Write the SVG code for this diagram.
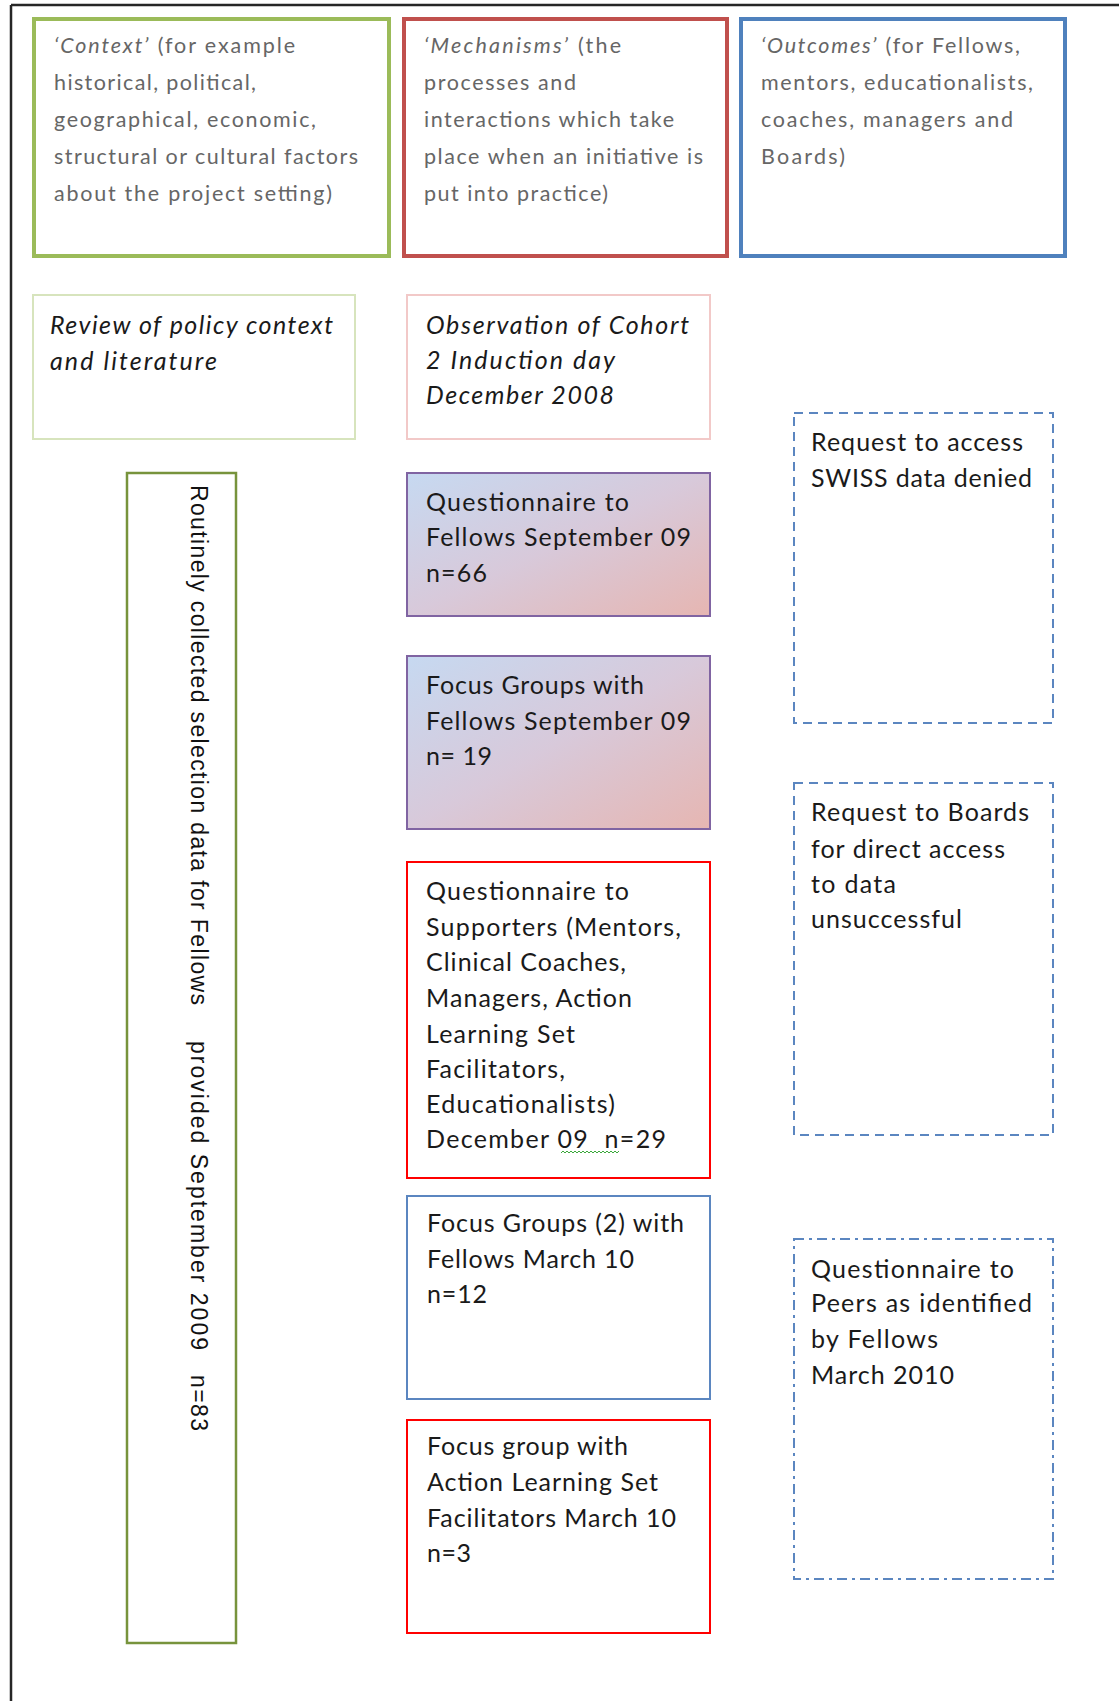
<svg xmlns="http://www.w3.org/2000/svg" width="1119" height="1701" viewBox="0 0 1119 1701">
<style>
  .hdr { font-family: Lato, "Open Sans", sans-serif; font-size: 21.5px; fill: #666666; }
  .body { font-family: Lato, "Open Sans", sans-serif; font-size: 25px; fill: #1a1a1a; }
  .ital { font-style: italic; }
  .vert { font-family: "Liberation Sans", Arial, sans-serif; font-size: 23px; fill: #111; }
  .frame { stroke: #262626; stroke-width: 2.5; fill: none; }
  .box { fill: #ffffff; }
  .thick { stroke-width: 4; }
  .thin { stroke-width: 2; }
  .dash { fill: none; stroke: #5b86c0; stroke-width: 2; stroke-dasharray: 9 6; }
  .dashdot { fill: none; stroke: #5b86c0; stroke-width: 2; stroke-dasharray: 10 5 3 5; }
</style>
<defs>
  <linearGradient id="grad" x1="0" y1="0" x2="1" y2="1">
    <stop offset="0" stop-color="#c6d9f1"/>
    <stop offset="0.5" stop-color="#d8c9da"/>
    <stop offset="1" stop-color="#e6b6b2"/>
  </linearGradient>
</defs>
<rect x="0" y="0" width="1119" height="1701" fill="#ffffff"/>
<g id="frame">
  <line class="frame" x1="11" y1="5" x2="11" y2="1701"/>
  <line class="frame" x1="11" y1="5" x2="1119" y2="5"/>
</g>
<g id="connectors"></g>

<g id="context">
  <rect class="box thick" x="34" y="19" width="355" height="237" stroke="#9bbb59"/>
  <text class="hdr" x="54" y="53" textLength="241" lengthAdjust="spacing"><tspan class="ital">‘Context’</tspan> (for example</text>
  <text class="hdr" x="54" y="90" textLength="202" lengthAdjust="spacing">historical, political,</text>
  <text class="hdr" x="54" y="127" textLength="262" lengthAdjust="spacing">geographical, economic,</text>
  <text class="hdr" x="54" y="164" textLength="304" lengthAdjust="spacing">structural or cultural factors</text>
  <text class="hdr" x="54" y="201" textLength="278" lengthAdjust="spacing">about the project setting)</text>
</g>

<g id="mechanisms">
  <rect class="box thick" x="404" y="19" width="323" height="237" stroke="#c0504d"/>
  <text class="hdr" x="424" y="53" textLength="197" lengthAdjust="spacing"><tspan class="ital">‘Mechanisms’</tspan> (the</text>
  <text class="hdr" x="424" y="90" textLength="152" lengthAdjust="spacing">processes and</text>
  <text class="hdr" x="424" y="127" textLength="250" lengthAdjust="spacing">interactions which take</text>
  <text class="hdr" x="424" y="164" textLength="279" lengthAdjust="spacing">place when an initiative is</text>
  <text class="hdr" x="424" y="201" textLength="184" lengthAdjust="spacing">put into practice)</text>
</g>

<g id="outcomes">
  <rect class="box thick" x="741" y="19" width="324" height="237" stroke="#4f81bd"/>
  <text class="hdr" x="761" y="53" textLength="259" lengthAdjust="spacing"><tspan class="ital">‘Outcomes’</tspan> (for Fellows,</text>
  <text class="hdr" x="761" y="90" textLength="272" lengthAdjust="spacing">mentors, educationalists,</text>
  <text class="hdr" x="761" y="127" textLength="252" lengthAdjust="spacing">coaches, managers and</text>
  <text class="hdr" x="761" y="164" textLength="84" lengthAdjust="spacing">Boards)</text>
</g>

<g id="review">
  <rect class="box" x="33" y="295" width="322" height="144" stroke="#d7e4bd" stroke-width="2"/>
  <text class="body ital" x="50" y="334" textLength="283" lengthAdjust="spacing">Review of policy context</text>
  <text class="body ital" x="50" y="370" textLength="167" lengthAdjust="spacing">and literature</text>
</g>

<g id="observation">
  <rect class="box" x="407" y="295" width="303" height="144" stroke="#f2c9c8" stroke-width="2"/>
  <text class="body ital" x="426" y="334" textLength="263" lengthAdjust="spacing">Observation of Cohort</text>
  <text class="body ital" x="426" y="369" textLength="189" lengthAdjust="spacing">2 Induction day</text>
  <text class="body ital" x="426" y="404" textLength="188" lengthAdjust="spacing">December 2008</text>
</g>

<g id="routinely">
  <rect class="box" x="127" y="473" width="109" height="1170" stroke="#77933c" stroke-width="2.5"/>
  <g transform="rotate(90)">
    <text class="vert" x="485" y="-191" textLength="520" lengthAdjust="spacing">Routinely collected selection data for Fellows</text>
    <text class="vert" x="1041" y="-191" textLength="309" lengthAdjust="spacing">provided September 2009</text>
    <text class="vert" x="1375" y="-191" textLength="56" lengthAdjust="spacing">n=83</text>
  </g>
</g>

<g id="q-fellows">
  <rect x="407" y="473" width="303" height="143" fill="url(#grad)" stroke="#8064a2" stroke-width="2"/>
  <text class="body" x="426" y="511" textLength="203" lengthAdjust="spacing">Questionnaire to</text>
  <text class="body" x="426" y="546" textLength="265" lengthAdjust="spacing">Fellows September 09</text>
  <text class="body" x="426" y="582" textLength="61" lengthAdjust="spacing">n=66</text>
</g>

<g id="fg-fellows">
  <rect x="407" y="656" width="303" height="173" fill="url(#grad)" stroke="#8064a2" stroke-width="2"/>
  <text class="body" x="426" y="694" textLength="218" lengthAdjust="spacing">Focus Groups with</text>
  <text class="body" x="426" y="730" textLength="265" lengthAdjust="spacing">Fellows September 09</text>
  <text class="body" x="426" y="765" textLength="66" lengthAdjust="spacing">n= 19</text>
</g>

<g id="q-supporters">
  <rect class="box thin" x="407" y="862" width="303" height="316" stroke="#ff0000"/>
  <text class="body" x="426" y="900" textLength="203" lengthAdjust="spacing">Questionnaire to</text>
  <text class="body" x="426" y="936" textLength="255" lengthAdjust="spacing">Supporters (Mentors,</text>
  <text class="body" x="426" y="971" textLength="200" lengthAdjust="spacing">Clinical Coaches,</text>
  <text class="body" x="426" y="1007" textLength="206" lengthAdjust="spacing">Managers, Action</text>
  <text class="body" x="426" y="1043" textLength="149" lengthAdjust="spacing">Learning Set</text>
  <text class="body" x="426" y="1078" textLength="139" lengthAdjust="spacing">Facilitators,</text>
  <text class="body" x="426" y="1113" textLength="189" lengthAdjust="spacing">Educationalists)</text>
  <text class="body" x="426" y="1148" textLength="240" lengthAdjust="spacing">December 09&#160; n=29</text>
  <path d="M561 1153 l2 -2 l2 2 l2 -2 l2 2 l2 -2 l2 2 l2 -2 l2 2 l2 -2 l2 2 l2 -2 l2 2 l2 -2 l2 2 l2 -2 l2 2 l2 -2 l2 2 l2 -2 l2 2 l2 -2 l2 2 l2 -2 l2 2 l2 -2 l2 2 l2 -2 l2 2 l2 -2" fill="none" stroke="#3aa83a" stroke-width="1"/>
</g>

<g id="fg-march">
  <rect class="box thin" x="407" y="1196" width="303" height="203" stroke="#5b86c0"/>
  <text class="body" x="427" y="1232" textLength="257" lengthAdjust="spacing">Focus Groups (2) with</text>
  <text class="body" x="427" y="1268" textLength="207" lengthAdjust="spacing">Fellows March 10</text>
  <text class="body" x="427" y="1303" textLength="60" lengthAdjust="spacing">n=12</text>
</g>

<g id="fg-als">
  <rect class="box thin" x="407" y="1420" width="303" height="213" stroke="#ff0000"/>
  <text class="body" x="427" y="1455" textLength="201" lengthAdjust="spacing">Focus group with</text>
  <text class="body" x="427" y="1491" textLength="231" lengthAdjust="spacing">Action Learning Set</text>
  <text class="body" x="427" y="1527" textLength="249" lengthAdjust="spacing">Facilitators March 10</text>
  <text class="body" x="427" y="1562" textLength="44" lengthAdjust="spacing">n=3</text>
</g>

<g id="swiss">
  <rect class="dash" x="794" y="413" width="259" height="310"/>
  <text class="body" x="811" y="451" textLength="212" lengthAdjust="spacing">Request to access</text>
  <text class="body" x="811" y="487" textLength="221" lengthAdjust="spacing">SWISS data denied</text>
</g>

<g id="boards">
  <rect class="dash" x="794" y="783" width="259" height="352"/>
  <text class="body" x="811" y="821" textLength="218" lengthAdjust="spacing">Request to Boards</text>
  <text class="body" x="811" y="858" textLength="194" lengthAdjust="spacing">for direct access</text>
  <text class="body" x="811" y="893" textLength="85" lengthAdjust="spacing">to data</text>
  <text class="body" x="811" y="928" textLength="151" lengthAdjust="spacing">unsuccessful</text>
</g>

<g id="peers">
  <rect class="dashdot" x="794" y="1239" width="259" height="340"/>
  <text class="body" x="811" y="1278" textLength="203" lengthAdjust="spacing">Questionnaire to</text>
  <text class="body" x="811" y="1312" textLength="221" lengthAdjust="spacing">Peers as identified</text>
  <text class="body" x="811" y="1348" textLength="127" lengthAdjust="spacing">by Fellows</text>
  <text class="body" x="811" y="1384" textLength="143" lengthAdjust="spacing">March 2010</text>
</g>
</svg>
